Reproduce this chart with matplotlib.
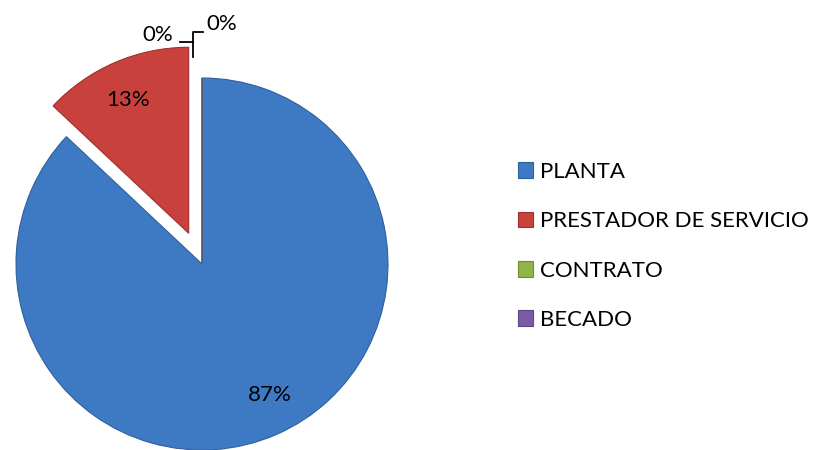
import matplotlib.pyplot as plt
from matplotlib.patches import Patch

plt.rcParams['font.family'] = ['Lato', 'DejaVu Sans']

# datos
categorias = ['PLANTA', 'PRESTADOR DE SERVICIO', 'CONTRATO', 'BECADO']
valores = [87, 13, 0, 0]
etiquetas = ['87%', '13%', '0%', '0%']
colores = ['#3E7AC4', '#C9413C', '#8DB548', '#7B5BA6']
bordes = ['#2F5F9C', '#9E2F2B', '#6E8E36', '#5E4683']
separacion = [0, 0.18, 0, 0]

W, H = 815, 450
cx, cy, rad = 202, 264, 186  # centro y radio en pixeles

fig = plt.figure(figsize=(W / 100, H / 100), dpi=100)
ax = fig.add_axes([0, 0, 1, 1])

wedges, _ = ax.pie(valores, colors=colores, startangle=90, counterclock=False,
                   explode=separacion, radius=1,
                   wedgeprops=dict(linewidth=0.8))
for w, b in zip(wedges, bordes):
    w.set_edgecolor(b)
ax.set_xlim(-cx / rad, (W - cx) / rad)
ax.set_ylim(-(H - cy) / rad, cy / rad)
ax.set_aspect('equal')
ax.axis('off')

# etiquetas de porcentaje
pos = [(0.366, -0.704), (-0.398, 0.882), (-0.237, 1.231), (0.108, 1.29)]
for (x, y), t in zip(pos, etiquetas):
    ax.text(x, y, t, ha='center', va='center', fontsize=16, color='black')

# lineas guia de los 0%
ax.plot([-0.118, -0.048], [1.194, 1.194], color='black', lw=1.3)
ax.plot([-0.048, -0.048, 0.005], [1.113, 1.247, 1.247], color='black', lw=1.3)

handles = [Patch(facecolor=c, edgecolor=b, linewidth=0.8) for c, b in zip(colores, bordes)]
fig.legend(handles, categorias, loc='upper left', bbox_to_anchor=(509 / W, 1 - 153 / H),
           frameon=False, fontsize=16, handlelength=0.7, handleheight=0.7,
           handletextpad=0.3, labelspacing=1.32, borderaxespad=0)

fig.savefig('out.png', dpi=100)
